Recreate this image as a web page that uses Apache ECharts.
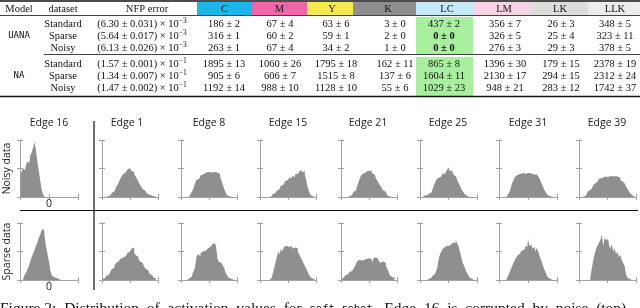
<!DOCTYPE html>
<html><head><meta charset="utf-8">
<script src="https://cdn.jsdelivr.net/npm/echarts@6/dist/echarts.min.js"></script>
<style>html,body{margin:0;padding:0;background:#fff}#c{width:640px;height:308px}</style>
</head><body><div id="c"></div><script>
// ---------- table data ----------
const colHeaders = ['C','M','Y','K','LC','LM','LK','LLK'];
const headerColors = ['#1db6ea','#f067a9','#f6e94f','#8e8e8e','#c3e8f8','#f9d1e4','#dcdcdc','#ececec'];
const models = ['UANA','NA'];
const datasets = ['Standard','Sparse','Noisy'];
const nfpUANA = ['6.30 ± 0.031','5.64 ± 0.017','6.13 ± 0.026'];
const nfpNA = ['1.57 ± 0.001','1.34 ± 0.007','1.47 ± 0.002'];
const nfpExp = ['−3','−1'];
const uanaStandard = ['186 ± 2','67 ± 4','63 ± 6','3 ± 0','437 ± 2','356 ± 7','26 ± 3','348 ± 5'];
const uanaSparse   = ['316 ± 1','60 ± 2','59 ± 1','2 ± 0','0 ± 0','326 ± 5','25 ± 4','323 ± 11'];
const uanaNoisy    = ['263 ± 1','67 ± 4','34 ± 2','1 ± 0','0 ± 0','276 ± 3','29 ± 3','378 ± 5'];
const naStandard   = ['1895 ± 13','1060 ± 26','1795 ± 18','162 ± 11','865 ± 8','1396 ± 30','179 ± 15','2378 ± 19'];
const naSparse     = ['905 ± 6','606 ± 7','1515 ± 8','137 ± 6','1604 ± 11','2130 ± 17','294 ± 15','2312 ± 24'];
const naNoisy      = ['1192 ± 14','988 ± 10','1128 ± 10','55 ± 6','1029 ± 23','948 ± 21','283 ± 12','1742 ± 37'];
const boldCells = [[0,1,4],[0,2,4]]; // [model, row, col]

// ---------- histogram data (fraction of box height, 40 bins) ----------
const edgeNames = ['Edge 16','Edge 1','Edge 8','Edge 15','Edge 21','Edge 25','Edge 31','Edge 39'];
const rowNames = ['Noisy data','Sparse data'];
const noisy16 = [0.40,0.44,0.50,0.47,0.55,0.62,0.60,0.72,0.78,0.86,
                 0.97,0.82,0.62,0.45,0.28,0.12,0.04,0,0,0,
                 0,0,0,0,0,0,0,0,0,0,
                 0,0,0,0,0,0,0,0,0,0];
const noisy1 = [0,0,0,0.01,0.02,0.03,0.05,0.07,0.10,0.13,
                0.17,0.21,0.26,0.32,0.36,0.40,0.43,0.46,0.48,0.51,
                0.49,0.46,0.44,0.40,0.36,0.32,0.27,0.22,0.18,0.14,
                0.11,0.08,0.06,0.04,0.03,0.02,0.01,0.01,0,0];
const noisy8 = [0,0,0,0,0,0.01,0.03,0.06,0.10,0.16,
                0.24,0.30,0.32,0.35,0.38,0.40,0.41,0.43,0.42,0.44,
                0.47,0.43,0.42,0.44,0.41,0.43,0.46,0.40,0.34,0.28,
                0.20,0.13,0.07,0.03,0.01,0,0,0,0,0];
const noisy15 = [0,0,0,0,0,0,0,0.01,0.03,0.05,
                 0.07,0.09,0.11,0.14,0.17,0.20,0.22,0.25,0.28,0.30,
                 0.32,0.34,0.33,0.37,0.35,0.39,0.42,0.38,0.45,0.47,
                 0.43,0.46,0.40,0.30,0.18,0.09,0.04,0.01,0,0];
const noisy21 = [0,0,0,0,0,0.01,0.02,0.04,0.06,0.09,
                 0.12,0.16,0.22,0.30,0.36,0.40,0.42,0.44,0.45,0.46,
                 0.44,0.46,0.42,0.39,0.37,0.33,0.28,0.24,0.20,0.16,
                 0.12,0.09,0.06,0.03,0.01,0,0,0,0,0];
const noisy25 = [0,0,0.02,0.03,0.03,0.05,0.06,0.08,0.10,0.15,
                 0.22,0.28,0.32,0.34,0.36,0.38,0.42,0.40,0.44,0.48,
                 0.52,0.45,0.47,0.42,0.38,0.35,0.30,0.25,0.20,0.14,
                 0.10,0.06,0.03,0.01,0,0,0,0,0,0];
const noisy31 = [0,0,0,0,0,0.02,0.04,0.08,0.15,0.24,
                 0.30,0.35,0.38,0.40,0.42,0.41,0.42,0.40,0.41,0.42,
                 0.40,0.42,0.41,0.40,0.39,0.40,0.38,0.36,0.32,0.26,
                 0.20,0.14,0.09,0.05,0.02,0.01,0,0,0,0];
const noisy39 = [0,0,0,0.01,0.03,0.06,0.09,0.12,0.15,0.18,
                 0.21,0.24,0.27,0.30,0.32,0.33,0.34,0.35,0.36,0.35,
                 0.37,0.36,0.37,0.38,0.36,0.37,0.36,0.35,0.34,0.30,
                 0.27,0.24,0.21,0.18,0.14,0.10,0.06,0.03,0.01,0];
const sparse16 = [0,0,0,0.08,0.12,0.18,0.24,0.32,0.40,0.46,
                  0.52,0.60,0.66,0.74,0.80,0.88,0.89,0.76,0.58,0.45,
                  0.32,0.16,0.08,0.05,0.04,0.03,0.02,0,0,0,
                  0,0,0,0,0,0,0,0,0,0];
const sparse1 = [0.02,0.03,0.05,0.07,0.09,0.12,0.15,0.19,0.22,0.26,
                 0.30,0.33,0.35,0.37,0.39,0.40,0.42,0.44,0.47,0.50,
                 0.52,0.55,0.57,0.48,0.44,0.41,0.37,0.33,0.30,0.27,
                 0.24,0.20,0.17,0.14,0.11,0.08,0.06,0.04,0.02,0.01];
const sparse8 = [0,0,0,0,0,0,0.03,0.06,0.10,0.15,
                 0.22,0.40,0.45,0.42,0.48,0.50,0.50,0.52,0.55,0.56,
                 0.58,0.60,0.62,0.65,0.64,0.60,0.38,0.32,0.30,0.28,
                 0.25,0.20,0.12,0.08,0.04,0.02,0,0,0,0];
const sparse15 = [0,0,0,0,0,0,0,0.02,0.05,0.10,
                  0.20,0.30,0.40,0.50,0.45,0.55,0.50,0.58,0.60,0.62,
                  0.58,0.56,0.60,0.55,0.57,0.60,0.56,0.50,0.45,0.40,
                  0.35,0.30,0.25,0.20,0.14,0.09,0.05,0.02,0.01,0];
const sparse21 = [0.02,0.04,0.06,0.08,0.10,0.12,0.14,0.16,0.18,0.20,
                  0.24,0.30,0.34,0.35,0.34,0.36,0.35,0.37,0.36,0.38,
                  0.40,0.37,0.30,0.36,0.40,0.38,0.36,0.34,0.30,0.33,
                  0.35,0.30,0.25,0.20,0.14,0.08,0.05,0.04,0.03,0.02];
const sparse25 = [0,0,0,0,0,0,0.02,0.04,0.06,0.08,
                  0.10,0.14,0.20,0.35,0.45,0.50,0.55,0.58,0.60,0.62,
                  0.60,0.63,0.62,0.66,0.65,0.70,0.65,0.60,0.50,0.40,
                  0.30,0.24,0.18,0.12,0.08,0.04,0.02,0,0,0];
const sparse31 = [0,0,0,0,0,0.02,0.06,0.12,0.18,0.24,
                  0.30,0.35,0.40,0.44,0.46,0.50,0.52,0.55,0.60,0.58,
                  0.72,0.60,0.62,0.55,0.58,0.50,0.56,0.50,0.42,0.35,
                  0.28,0.20,0.14,0.08,0.04,0.02,0,0,0,0];
const sparse39 = [0,0,0,0,0,0,0,0,0.05,0.20,
                  0.35,0.45,0.55,0.60,0.65,0.70,0.80,0.60,0.74,0.70,
                  0.72,0.62,0.55,0.63,0.50,0.56,0.45,0.50,0.40,0.44,
                  0.35,0.30,0.25,0.10,0.04,0.02,0,0,0,0];
const histRows = [
  [noisy16,noisy1,noisy8,noisy15,noisy21,noisy25,noisy31,noisy39],
  [sparse16,sparse1,sparse8,sparse15,sparse21,sparse25,sparse31,sparse39]
];
// caption is justified in the source, hence the wider (double) word gaps
const captionA = 'Figure 2:  Distribution  of  activation  values  for  ';
const captionMono = 'soft_robot';
const captionB = '.  Edge  16  is  corrupted  by  noise  (top)';

// ---------- layout ----------
const SERIF = '"Liberation Serif", "Times New Roman", serif';
const SANS = '"Open Sans", "Noto Sans", sans-serif';
const MONO = '"DejaVu Sans Mono", monospace';
const headerBounds = [197,252,307,353,416,473,530,588,640];
const headerLabelX = [224.5,279.5,332,388,447,504,560,615];
const colCenters = [224,280,336,395,444,505,561,615];
const rowY = [[24,36,48],[64,76,88]];
const modelY = [36,76];
const boxLeft = [20,102,181,260,341,420,499,579];
const boxW = [58,56,56,56,56,57,58,57];
const rowTop = [140,223];
const boxH = 57;
const titleX = [49,127,209,288,368,448,528,607];

const G = [];
function txt(x, y, text, font, extra) {
  const st = Object.assign({text: text, font: font, fill: '#111', align: 'center', verticalAlign: 'middle',
                            textAlign: 'center', textVerticalAlign: 'middle'}, extra || {});
  G.push({type: 'text', x: x, y: y, silent: true, style: st});
}
function line(x1, y1, x2, y2, w, c) {
  G.push({type: 'line', silent: true, shape: {x1: x1, y1: y1, x2: x2, y2: y2}, style: {stroke: c || '#111', lineWidth: w}});
}
function rect(x, y, w, h, c) {
  G.push({type: 'rect', silent: true, shape: {x: x, y: y, width: w, height: h}, style: {fill: c}});
}
const F = '10.5px ' + SERIF;
for (let i = 0; i < colHeaders.length; i++) rect(headerBounds[i], 2, headerBounds[i+1]-headerBounds[i], 13, headerColors[i]);
rect(headerBounds[4], 17, headerBounds[5]-headerBounds[4], 37, '#a8f0a0');
rect(headerBounds[4], 57, headerBounds[5]-headerBounds[4], 39, '#a8f0a0');
line(0, 1, 640, 1, 1.4);
line(0, 15.5, 640, 15.5, 0.8);
line(44, 54.5, 640, 54.5, 0.8);
line(0, 96.5, 640, 96.5, 1.4);
txt(19, 9, 'Model', F);
txt(63, 9, 'dataset', F);
txt(147, 9, 'NFP error', F);
for (let i = 0; i < colHeaders.length; i++) txt(headerLabelX[i], 9, colHeaders[i], F);
const allVals = [[uanaStandard, uanaSparse, uanaNoisy], [naStandard, naSparse, naNoisy]];
const allNfp = [nfpUANA, nfpNA];
for (let m = 0; m < 2; m++) {
  txt(19, modelY[m], models[m], '9px ' + MONO);
  for (let r = 0; r < 3; r++) {
    const y = rowY[m][r];
    txt(63, y, datasets[r], F);
    G.push({type: 'text', x: 142, y: y, silent: true, style: {
      text: '{b|(' + allNfp[m][r] + ') × 10}{s|' + nfpExp[m] + '}',
      align: 'center', verticalAlign: 'middle', textAlign: 'center', textVerticalAlign: 'middle',
      rich: {
        b: {fontFamily: SERIF, fontSize: 10.5, lineHeight: 14, fill: '#111'},
        s: {fontFamily: SERIF, fontSize: 7.5, verticalAlign: 'top', fill: '#111'}
      }
    }});
    for (let c = 0; c < 8; c++) {
      const bold = boldCells.some(b => b[0] === m && b[1] === r && b[2] === c);
      txt(colCenters[c], y, allVals[m][r][c], (bold ? 'bold ' : '') + F);
    }
  }
}
for (let c = 0; c < 8; c++) txt(titleX[c], 123, edgeNames[c], '10.5px ' + SANS, {fill: '#222'});
for (let r = 0; r < 2; r++) {
  G.push({type: 'text', x: 7, y: rowTop[r] + boxH / 2, rotation: Math.PI / 2, silent: true,
    style: {text: rowNames[r], font: '10.5px ' + SANS, fill: '#222', align: 'center', verticalAlign: 'middle',
            textAlign: 'center', textVerticalAlign: 'middle'}});
}
line(94, 121, 94, 290, 1.2);
line(20, 210.5, 638, 210.5, 1.2);
G.push({type: 'text', x: 0, y: 309, silent: true, style: {
  text: '{r|' + captionA + '}{m|' + captionMono + '}{r|' + captionB + '}',
  align: 'left', verticalAlign: 'middle', textAlign: 'left', textVerticalAlign: 'middle',
  rich: {r: {fontFamily: SERIF, fontSize: 15.5, fill: '#111'}, m: {fontFamily: MONO, fontSize: 10.5, fill: '#111'}}
}});

// ---------- grids ----------
const grids = [], xAxes = [], yAxes = [], series = [];
const AX = '#a3a3a3';
function axisBase() {
  return {axisLine: {show: true, lineStyle: {color: AX, width: 1}},
          axisTick: {show: true, inside: true, length: 3, lineStyle: {color: AX, width: 1}},
          splitLine: {show: false}, axisLabel: {show: false}};
}
for (let r = 0; r < 2; r++) {
  for (let c = 0; c < 8; c++) {
    const gi = grids.length;
    grids.push({left: boxLeft[c], top: rowTop[r], width: boxW[c], height: boxH, containLabel: false});
    const xb = Object.assign(axisBase(), {gridIndex: gi, type: 'value', min: 0, max: 40, interval: 20, position: 'bottom'});
    if (c === 0) xb.axisLabel = {show: true, margin: 2, fontFamily: SANS, fontSize: 10.5, color: '#222',
                                 formatter: v => (v === 20 ? '0' : '')};
    const xt = Object.assign(axisBase(), {gridIndex: gi, type: 'value', min: 0, max: 40, interval: 20, position: 'top'});
    const yl = Object.assign(axisBase(), {gridIndex: gi, type: 'value', min: 0, max: 1, interval: 0.5, position: 'left'});
    const yr = Object.assign(axisBase(), {gridIndex: gi, type: 'value', min: 0, max: 1, interval: 0.5, position: 'right'});
    const xi = xAxes.length; xAxes.push(xb, xt);
    const yi = yAxes.length; yAxes.push(yl, yr);
    series.push({type: 'line', xAxisIndex: xi, yAxisIndex: yi, step: 'middle', symbol: 'none', silent: true,
                 data: histRows[r][c].map((v, i) => [i + 0.5, v]),
                 lineStyle: {width: 0}, areaStyle: {color: '#8f8f8f', opacity: 1}});
  }
}

const chart = echarts.init(document.getElementById('c'), null, {renderer: 'canvas'});
chart.setOption({
  animation: false,
  backgroundColor: '#fff',
  grid: grids, xAxis: xAxes, yAxis: yAxes, series: series,
  graphic: {elements: G}
});
</script></body></html>
